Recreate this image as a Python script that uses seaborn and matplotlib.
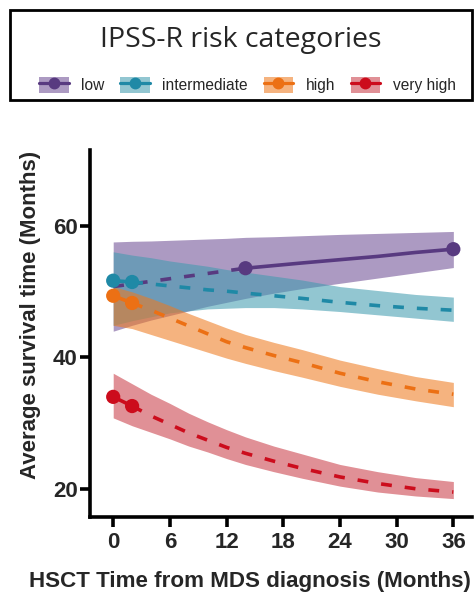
import matplotlib
matplotlib.use("Agg")
import matplotlib.pyplot as plt
from matplotlib.lines import Line2D
from matplotlib.patches import Patch, Rectangle
from matplotlib.legend_handler import HandlerTuple
import pandas as pd
import seaborn as sns

months = [0, 2, 4, 6, 8, 10, 12, 14, 17, 20, 24, 28, 32, 36]

categories = ["low", "intermediate", "high", "very high"]

low_mean = [50.8, 51.2, 51.6, 52.0, 52.4, 52.8, 53.2, 53.6, 54.0, 54.4, 54.9, 55.4, 56.0, 56.5]
low_upper = [57.6, 57.7, 57.75, 57.85, 57.95, 58.05, 58.15, 58.3, 58.4, 58.55, 58.75, 58.9, 59.05, 59.2]
low_lower = [44.0, 44.9, 45.7, 46.4, 47.1, 47.8, 48.4, 49.0, 49.8, 50.5, 51.3, 52.1, 52.9, 53.7]

int_mean = [51.7, 51.5, 51.2, 50.9, 50.6, 50.3, 50.1, 49.8, 49.4, 49.0, 48.4, 47.9, 47.5, 47.2]
int_upper = [56.1, 55.6, 55.2, 54.7, 54.3, 53.9, 53.4, 53.0, 52.4, 51.8, 50.8, 50.2, 49.6, 49.2]
int_lower = [44.9, 45.6, 46.2, 46.8, 47.1, 47.4, 47.5, 47.6, 47.6, 47.4, 47.0, 46.5, 46.0, 45.5]

high_mean = [49.4, 48.3, 47.2, 46.0, 44.8, 43.6, 42.4, 41.5, 40.3, 39.2, 37.6, 36.3, 35.2, 34.4]
high_upper = [50.8, 50.0, 49.0, 47.9, 46.7, 45.6, 44.5, 43.5, 42.3, 41.2, 39.6, 38.3, 37.1, 36.2]
high_lower = [44.9, 44.4, 43.5, 42.6, 41.7, 40.8, 39.9, 39.1, 38.0, 37.0, 35.6, 34.4, 33.4, 32.5]

vhigh_mean = [34.0, 32.6, 31.1, 29.8, 28.5, 27.4, 26.3, 25.4, 24.2, 23.1, 21.8, 20.8, 20.0, 19.5]
vhigh_upper = [37.6, 36.0, 34.4, 33.0, 31.5, 30.2, 29.0, 27.9, 26.5, 25.3, 23.7, 22.6, 21.7, 21.1]
vhigh_lower = [30.8, 29.6, 28.6, 27.6, 26.5, 25.6, 24.6, 23.7, 22.6, 21.6, 20.4, 19.5, 18.9, 18.5]

# observed points (solid segment between them, dashed elsewhere)
observed_months = {
    "low": [14, 36],
    "intermediate": [0, 2],
    "high": [0, 2],
    "very high": [0, 2],
}

line_colors = {"low": "#583a80", "intermediate": "#1f89a6",
               "high": "#ec7014", "very high": "#cc0c1c"}
fill_colors = {"low": "#6e4d94", "intermediate": "#3f9baf",
               "high": "#ee7a1e", "very high": "#ca3c46"}

series = {
    "low": (low_mean, low_lower, low_upper),
    "intermediate": (int_mean, int_lower, int_upper),
    "high": (high_mean, high_lower, high_upper),
    "very high": (vhigh_mean, vhigh_lower, vhigh_upper),
}

sns.set_theme(style="ticks")
plt.rcParams["font.family"] = ["Liberation Sans", "DejaVu Sans"]

fig = plt.figure(figsize=(4.77, 6.10), dpi=100)
ax = fig.add_axes([0.189, 0.1525, 0.801, 0.6015])

lw = 2.6
dash = (0, (3.0, 3.6))
for cat in categories:
    mean, lower, upper = series[cat]
    df = pd.DataFrame({"month": months, "mean": mean, "lower": lower, "upper": upper})
    ax.fill_between(df["month"], df["lower"], df["upper"],
                    color=fill_colors[cat], alpha=0.57, linewidth=0)

    obs = observed_months[cat]
    lo, hi = min(obs), max(obs)
    solid = df[(df["month"] >= lo) & (df["month"] <= hi)]
    before = df[df["month"] <= lo]
    after = df[df["month"] >= hi]
    for part in (before, after):
        if len(part) > 1:
            sns.lineplot(data=part, x="month", y="mean", ax=ax, color=line_colors[cat],
                         linewidth=lw, linestyle=dash, errorbar=None)
    sns.lineplot(data=solid, x="month", y="mean", ax=ax, color=line_colors[cat],
                 linewidth=lw, errorbar=None)
    pts = df[df["month"].isin(obs)]
    sns.scatterplot(data=pts, x="month", y="mean", ax=ax, color=line_colors[cat],
                    s=105, edgecolor="none", zorder=5)

ax.set_xlim(-2.44, 38.0)
ax.set_ylim(15.7, 71.6)
ax.set_xticks(range(0, 37, 6))
ax.set_yticks([20, 40, 60])
sns.despine(ax=ax)
for side in ("left", "bottom"):
    ax.spines[side].set_linewidth(2.6)
    ax.spines[side].set_color("black")
ax.tick_params(axis="both", length=7, width=2.6, color="black", labelsize=16)
ax.tick_params(axis="x", pad=4)
ax.tick_params(axis="y", pad=2)
for lab in ax.get_xticklabels() + ax.get_yticklabels():
    lab.set_fontweight("bold")
ax.set_xlabel("HSCT Time from MDS diagnosis (Months)", fontsize=16.1, fontweight="bold")
ax.set_ylabel("Average survival time (Months)", fontsize=16, fontweight="bold")
ax.xaxis.set_label_coords(0.419, -0.177)
ax.xaxis.label.set_va("center")
ax.yaxis.set_label_coords(-0.155, 0.55)
ax.yaxis.label.set_va("center")

# legend box with title
fig.patches.append(Rectangle((0.021, 0.836), 0.9686, 0.1475, transform=fig.transFigure,
                             fill=False, edgecolor="black", linewidth=2.0))
fig.text(0.505, 0.934, "IPSS-R risk categories", ha="center", va="center",
         fontsize=20.5, family=["Open Sans", "DejaVu Sans"])

handles = []
for cat in categories:
    patch = Patch(facecolor=fill_colors[cat], alpha=0.57, edgecolor="none")
    line = Line2D([], [], color=line_colors[cat], linewidth=2.3,
                  marker="o", markersize=7.5)
    handles.append((patch, line))

fig.legend(handles, categories, loc="center", ncol=4,
           bbox_to_anchor=(0.519, 0.861), fontsize=11.2, frameon=False,
           handlelength=1.9, handleheight=1.25, handletextpad=0.8,
           columnspacing=1.0,
           handler_map={tuple: HandlerTuple(ndivide=1)})

fig.savefig("out.png", dpi=100)
